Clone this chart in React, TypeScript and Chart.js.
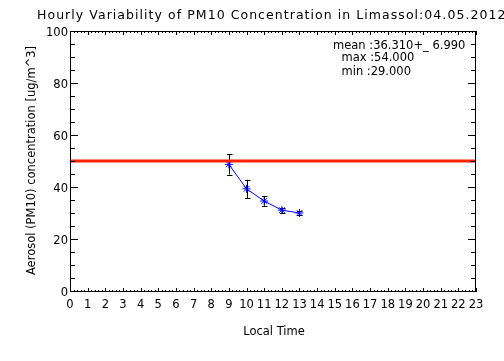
import { useEffect, useRef } from 'react';
import { Chart, registerables } from 'chart.js';

Chart.register(...registerables);

// ---- data ----
const hours = [9, 10, 11, 12, 13];
const pm10 = [48.7, 39.3, 34.6, 31.1, 30.0];
const pm10Err = [3.9, 3.5, 1.8, 1.0, 0.8];
const limitHours = [0, 23];
const limitValues = [50, 50];
const xTickLabels = Array.from({ length: 24 }, (_, i) => String(i));
const yTickValues = [0, 20, 40, 60, 80, 100];
const titleText = 'Hourly Variability of PM10 Concentration in Limassol:04.05.2012';
const xTitle = 'Local Time';
const yTitle = 'Aerosol (PM10) concentration [ug/m^3]';
const statsLines = ['mean :36.310+_ 6.990', 'max :54.000', 'min :29.000'];

const FONT = '"DejaVu Sans", sans-serif';

const idlPlugin = {
  id: 'idlAxes',
  beforeDatasetsDraw(chart: any) {
    const ctx = chart.ctx;
    const xs = chart.scales.x;
    const ys = chart.scales.y;
    ctx.save();
    ctx.strokeStyle = '#000';
    ctx.lineWidth = 1;
    hours.forEach((h, i) => {
      const x = Math.round(xs.getPixelForValue(h)) + 0.5;
      const yt = ys.getPixelForValue(pm10[i] + pm10Err[i]);
      const yb = ys.getPixelForValue(pm10[i] - pm10Err[i]);
      ctx.beginPath();
      ctx.moveTo(x, yt);
      ctx.lineTo(x, yb);
      ctx.moveTo(x - 2.5, Math.round(yt) + 0.5);
      ctx.lineTo(x + 3, Math.round(yt) + 0.5);
      ctx.moveTo(x - 2.5, Math.round(yb) + 0.5);
      ctx.lineTo(x + 3, Math.round(yb) + 0.5);
      ctx.stroke();
    });
    ctx.restore();
  },
  afterDraw(chart: any) {
    const ctx = chart.ctx;
    const xs = chart.scales.x;
    const ys = chart.scales.y;
    const L = Math.round(xs.getPixelForValue(0));
    const R = Math.round(xs.getPixelForValue(23)) - 1;
    const T = Math.round(ys.getPixelForValue(100));
    const B = Math.round(ys.getPixelForValue(0));
    ctx.save();
    ctx.strokeStyle = '#000';
    ctx.lineWidth = 1;
    ctx.beginPath();
    ctx.moveTo(L + 0.5, T + 0.5);
    ctx.lineTo(R + 0.5, T + 0.5);
    ctx.lineTo(R + 0.5, B + 0.5);
    ctx.lineTo(L + 0.5, B + 0.5);
    ctx.closePath();
    // y ticks every 5, long at 20s
    for (let v = 0; v <= 100; v += 5) {
      const y = Math.round(ys.getPixelForValue(v)) + 0.5;
      const len = v % 20 === 0 ? 8 : 5;
      ctx.moveTo(L, y);
      ctx.lineTo(L + len, y);
      ctx.moveTo(R + 1, y);
      ctx.lineTo(R + 1 - len, y);
    }
    // x ticks every 0.2 h, long at hours
    for (let i = 0; i <= 23 * 5; i++) {
      const v = i / 5;
      const x = Math.round(xs.getPixelForValue(v)) + 0.5;
      const len = i % 5 === 0 ? 4 : 2;
      ctx.moveTo(x, B + 1);
      ctx.lineTo(x, B + 1 - len);
      ctx.moveTo(x, T);
      ctx.lineTo(x, T + len);
    }
    ctx.stroke();

    ctx.fillStyle = '#000';
    ctx.font = `11.5px ${FONT}`;
    ctx.textBaseline = 'middle';
    ctx.textAlign = 'right';
    yTickValues.forEach((v) => {
      ctx.fillText(String(v), L - 2, ys.getPixelForValue(v) + 2);
    });
    ctx.textAlign = 'center';
    xTickLabels.forEach((lab, i) => {
      ctx.fillText(lab, xs.getPixelForValue(i), 305);
    });
    ctx.fillText(xTitle, 274, 332);

    ctx.save();
    ctx.translate(32.5, 160.5);
    ctx.rotate(-Math.PI / 2);
    ctx.textAlign = 'center';
    ctx.fillText(yTitle, 0, 0);
    ctx.restore();

    ctx.textAlign = 'left';
    ctx.fillText(statsLines[0], 333, 46);
    ctx.fillText(statsLines[1], 341.5, 58);
    ctx.fillText(statsLines[2], 341.5, 72);

    ctx.font = `12.5px ${FONT}`;
    (ctx as any).letterSpacing = '1.05px';
    ctx.fillText(titleText, 37, 16);
    (ctx as any).letterSpacing = '0px';
    ctx.restore();
  },
};

export default function App() {
  const ref = useRef<HTMLCanvasElement | null>(null);
  useEffect(() => {
    if (!ref.current) return;
    const chart = new Chart(ref.current, {
      type: 'line',
      data: {
        datasets: [
          {
            label: 'limit',
            data: limitHours.map((h, i) => ({ x: h, y: limitValues[i] })),
            borderColor: '#ff2200',
            borderWidth: 3,
            pointRadius: 0,
            order: 0,
          },
          {
            label: 'PM10',
            data: hours.map((h, i) => ({ x: h, y: pm10[i] })),
            borderColor: '#0000ff',
            borderWidth: 1,
            pointStyle: 'star',
            pointRadius: 4,
            pointBorderColor: '#0000ff',
            pointBackgroundColor: '#0000ff',
            pointBorderWidth: 1,
            order: 1,
          },
        ],
      },
      options: {
        animation: false,
        responsive: false,
        devicePixelRatio: 1,
        layout: { padding: { left: 70, top: 31, right: 28, bottom: 70 } },
        scales: {
          x: { type: 'linear', min: 0, max: 23, display: false },
          y: { type: 'linear', min: 0, max: 100, display: false },
        },
        plugins: {
          legend: { display: false },
          tooltip: { enabled: false },
          title: { display: false },
        },
        events: [],
      },
      plugins: [idlPlugin],
    });
    return () => chart.destroy();
  }, []);
  return (
    <div style={{ position: 'fixed', left: 0, top: 0, width: 504, height: 361, background: '#fff' }}>
      <canvas ref={ref} width={504} height={361} style={{ width: 504, height: 361 }} />
    </div>
  );
}
